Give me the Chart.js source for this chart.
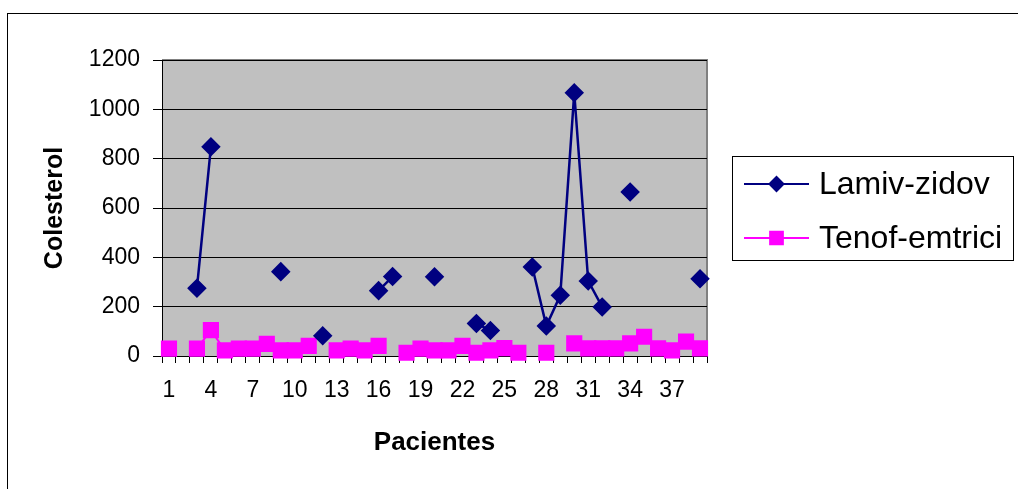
<!DOCTYPE html>
<html>
<head>
<meta charset="utf-8">
<script src="https://cdn.jsdelivr.net/npm/chart.js@4/dist/chart.umd.min.js"></script>
<style>
  html, body { margin: 0; padding: 0; background: #fff; }
  #wrap { width: 1018px; height: 489px; position: relative; }
</style>
</head>
<body>
<div id="wrap"><canvas id="chart" width="1018" height="489"></canvas></div>
<script>
const pacientes = [];
for (let i = 1; i <= 39; i++) pacientes.push(String(i));

const lamivZidov = [
  null, null, 275, 848, null, null, null, null, 342, null,
  null, 82, null, null, null, 265, 322, null, null, 321,
  null, null, 132, 103, null, null, 361, 122, 246, 1067,
  304, 199, null, 665, null, null, null, null, 313
];

const tenofEmtrici = [
  30, null, 30, 105, 23, 30, 30, 49, 23, 23,
  41, null, 23, 30, 23, 41, null, 13, 30, 23,
  23, 41, 13, 23, 32, 13, null, 13, null, 51,
  31, 31, 31, 51, 78, 31, 23, 58, 31
];

const yTicks = [0, 200, 400, 600, 800, 1000, 1200];
const FONT = "'Liberation Sans', Arial, sans-serif";

// plot background, frame and outer border
const framePlugin = {
  id: 'frame',
  beforeDraw(chart) {
    const { ctx, chartArea: a } = chart;
    ctx.save();
    ctx.fillStyle = '#fff';
    ctx.fillRect(0, 0, chart.width, chart.height);
    ctx.strokeStyle = '#000';
    ctx.lineWidth = 1;
    ctx.strokeRect(7.5, 13.5, 1030, 500);
    ctx.fillStyle = '#c0c0c0';
    ctx.fillRect(a.left, a.top, a.right - a.left, a.bottom - a.top);
    ctx.strokeStyle = '#808080';
    ctx.lineWidth = 2;
    ctx.beginPath();
    ctx.moveTo(a.left, a.top);
    ctx.lineTo(a.right, a.top);
    ctx.lineTo(a.right, a.bottom);
    ctx.stroke();
    ctx.restore();
  }
};

// legend drawn like the original: line + marker in a bordered box
const legendPlugin = {
  id: 'boxLegend',
  afterDraw(chart) {
    const { ctx } = chart;
    ctx.save();
    ctx.strokeStyle = '#000';
    ctx.lineWidth = 1;
    ctx.strokeRect(732.5, 156.5, 281, 104);
    chart.data.datasets.forEach((ds, i) => {
      const y = 184 + i * 54;
      ctx.strokeStyle = ds.borderColor;
      ctx.lineWidth = 2;
      ctx.beginPath();
      ctx.moveTo(744, y);
      ctx.lineTo(809, y);
      ctx.stroke();
      Chart.helpers.drawPoint(ctx, {
        pointStyle: ds.pointStyle,
        radius: ds.legendRadius,
        borderWidth: 1
      }, 776.5, y);
      ctx.fillStyle = ds.pointBackgroundColor;
      ctx.fill();
      ctx.fillStyle = '#000';
      ctx.font = '32px ' + FONT;
      ctx.textAlign = 'left';
      ctx.textBaseline = 'middle';
      ctx.fillText(ds.label, 819, y + 1);
    });
    ctx.restore();
  }
};

new Chart(document.getElementById('chart'), {
  type: 'line',
  data: {
    labels: pacientes,
    datasets: [
      {
        label: 'Lamiv-zidov',
        data: lamivZidov,
        borderColor: '#000080',
        backgroundColor: '#000080',
        pointBackgroundColor: '#000080',
        pointBorderColor: '#000080',
        borderWidth: 2.5,
        pointStyle: 'rectRot',
        pointRadius: 8,
        legendRadius: 7,
        spanGaps: false,
        tension: 0,
        clip: false
      },
      {
        label: 'Tenof-emtrici',
        data: tenofEmtrici,
        borderColor: '#ff00ff',
        backgroundColor: '#ff00ff',
        pointBackgroundColor: '#ff00ff',
        pointBorderColor: '#ff00ff',
        borderWidth: 2,
        pointStyle: 'rect',
        pointRadius: 10,
        legendRadius: 9,
        spanGaps: false,
        tension: 0,
        clip: false
      }
    ]
  },
  options: {
    responsive: false,
    animation: false,
    layout: { padding: { left: 0, top: 60, right: 311, bottom: 0 } },
    plugins: {
      legend: { display: false },
      tooltip: { enabled: false }
    },
    scales: {
      x: {
        offset: true,
        grid: { offset: true, drawOnChartArea: false, drawTicks: true, tickLength: 7, color: '#000' },
        border: { color: '#000', width: 1 },
        ticks: {
          autoSkip: false,
          maxRotation: 0,
          padding: 14,
          color: '#000',
          font: { family: FONT, size: 23 },
          callback: (v, i) => (i % 3 === 0 ? pacientes[i] : '')
        },
        title: {
          display: true,
          text: 'Pacientes',
          color: '#000',
          font: { family: FONT, size: 26, weight: 'bold' },
          padding: { top: 0, bottom: 31 }
        },
        afterFit(scale) { scale.height = 133; }
      },
      y: {
        min: 0,
        max: 1200,
        afterBuildTicks(scale) { scale.ticks = yTicks.map(v => ({ value: v })); },
        grid: { color: '#000', lineWidth: 1, tickLength: 9 },
        border: { color: '#000', width: 1 },
        ticks: {
          padding: 13,
          color: '#000',
          font: { family: FONT, size: 23 },
          callback: v => String(v)
        },
        title: {
          display: true,
          text: 'Colesterol',
          color: '#000',
          font: { family: FONT, size: 25, weight: 'bold' },
          padding: { top: 40, bottom: 0 }
        },
        afterFit(scale) { scale.width = 162; }
      }
    }
  },
  plugins: [framePlugin, legendPlugin]
});
</script>
</body>
</html>
